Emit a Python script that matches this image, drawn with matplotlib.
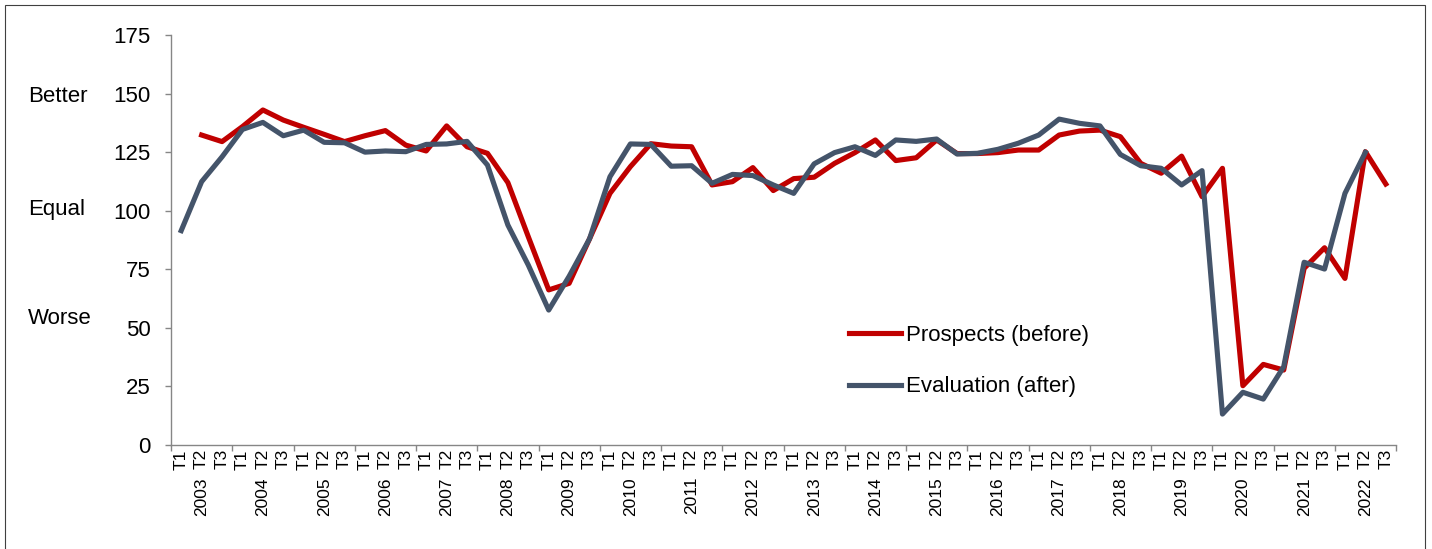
import numpy as np
import matplotlib
matplotlib.use('Agg')
import matplotlib.pyplot as plt
from matplotlib.transforms import blended_transform_factory
from matplotlib.patches import Rectangle

plt.rcParams['font.family'] = ['Liberation Sans', 'DejaVu Sans']

years = list(range(2003, 2023))
terms = ['T1', 'T2', 'T3']

# 3 values per year (T1, T2, T3)
prospects = [np.nan, 132.3, 129.5, 135.9, 143.0, 138.7, 135.6, 132.6, 129.5, 132.0,
             134.2, 128.0, 125.5, 136.2, 127.3, 124.5, 112.0, 88.9, 66.2, 69.0,
             88.0, 107.4, 118.8, 128.6, 127.6, 127.3, 111.0, 112.4, 118.4, 108.6,
             113.7, 114.3, 120.2, 124.8, 130.2, 121.4, 122.6, 130.2, 124.4, 124.4,
             124.8, 125.9, 125.9, 132.3, 134.0, 134.4, 131.6, 120.2, 116.0, 123.3,
             106.0, 118.1, 25.3, 34.4, 32.0, 75.4, 84.2, 71.1, 125.2, 111.4]
evaluation = [91.5, 112.4, 123.0, 134.7, 137.7, 132.0, 134.4, 129.2, 129.0, 125.0,
              125.5, 125.2, 128.3, 128.5, 129.6, 119.5, 93.9, 76.8, 57.6, 72.0,
              88.0, 114.5, 128.5, 128.3, 119.0, 119.2, 111.7, 115.5, 115.0, 111.0,
              107.4, 120.0, 124.8, 127.3, 123.6, 130.2, 129.6, 130.6, 124.2, 124.5,
              126.2, 128.8, 132.3, 139.1, 137.3, 136.2, 124.0, 119.2, 118.1, 111.0,
              117.1, 13.2, 22.5, 19.6, 33.4, 78.0, 75.1, 107.4, 124.9, np.nan]
side_labels = ['Better', 'Equal', 'Worse']

W, H = 1432, 549
fig = plt.figure(figsize=(W / 100, H / 100), dpi=100)
ax = fig.add_axes([171 / W, 1 - 445 / H, (1396 - 171) / W, (445 - 35) / H])

x = np.arange(len(years) * 3)
red = '#C00000'
blue = '#44546A'
ax.plot(x, prospects, color=red, lw=3.7, solid_joinstyle='round', label='Prospects (before)')
ax.plot(x, evaluation, color=blue, lw=3.7, solid_joinstyle='round', label='Evaluation (after)')

ax.set_xlim(-0.5, len(x) - 0.5)
ax.set_ylim(0, 175)
ax.set_yticks(np.arange(0, 176, 25))
ax.tick_params(axis='y', labelsize=16, length=4.3, width=1, color='#868686', pad=10.5)

for s in ['top', 'right']:
    ax.spines[s].set_visible(False)
for s in ['left', 'bottom']:
    ax.spines[s].set_color('#868686')
    ax.spines[s].set_linewidth(1)

# year boundaries as major ticks, terms as minor labels
ax.set_xticks(np.arange(-0.5, len(x), 3))
ax.set_xticklabels([])
ax.tick_params(axis='x', which='major', length=4.3, width=1, color='#868686')
ax.set_xticks(x, minor=True)
ax.set_xticklabels(terms * len(years), minor=True, rotation=90, fontsize=12.5)
ax.tick_params(axis='x', which='minor', length=0, pad=3)

tr = blended_transform_factory(ax.transData, ax.transAxes)
for k, yr in enumerate(years):
    ax.text(3 * k + 1, -32 / 410, str(yr), transform=tr, rotation=90,
            ha='center', va='top', fontsize=12.5)

for lab, ypx in zip(side_labels, [97, 209, 319]):
    fig.text(28 / W, 1 - ypx / H, lab, ha='left', va='center', fontsize=16)

ax.legend(loc='center left', bbox_to_anchor=(838 / W, 1 - 361 / H),
          bbox_transform=fig.transFigure, frameon=False, fontsize=16,
          handlelength=2.35, handletextpad=0.2, labelspacing=1.38, borderpad=0)

fig.patches.append(Rectangle((5 / W, -0.05), 1420 / W, 1.05 - 5 / H,
                             transform=fig.transFigure, fill=False,
                             edgecolor='#404040', lw=0.8))

fig.savefig('out.png', dpi=100)
